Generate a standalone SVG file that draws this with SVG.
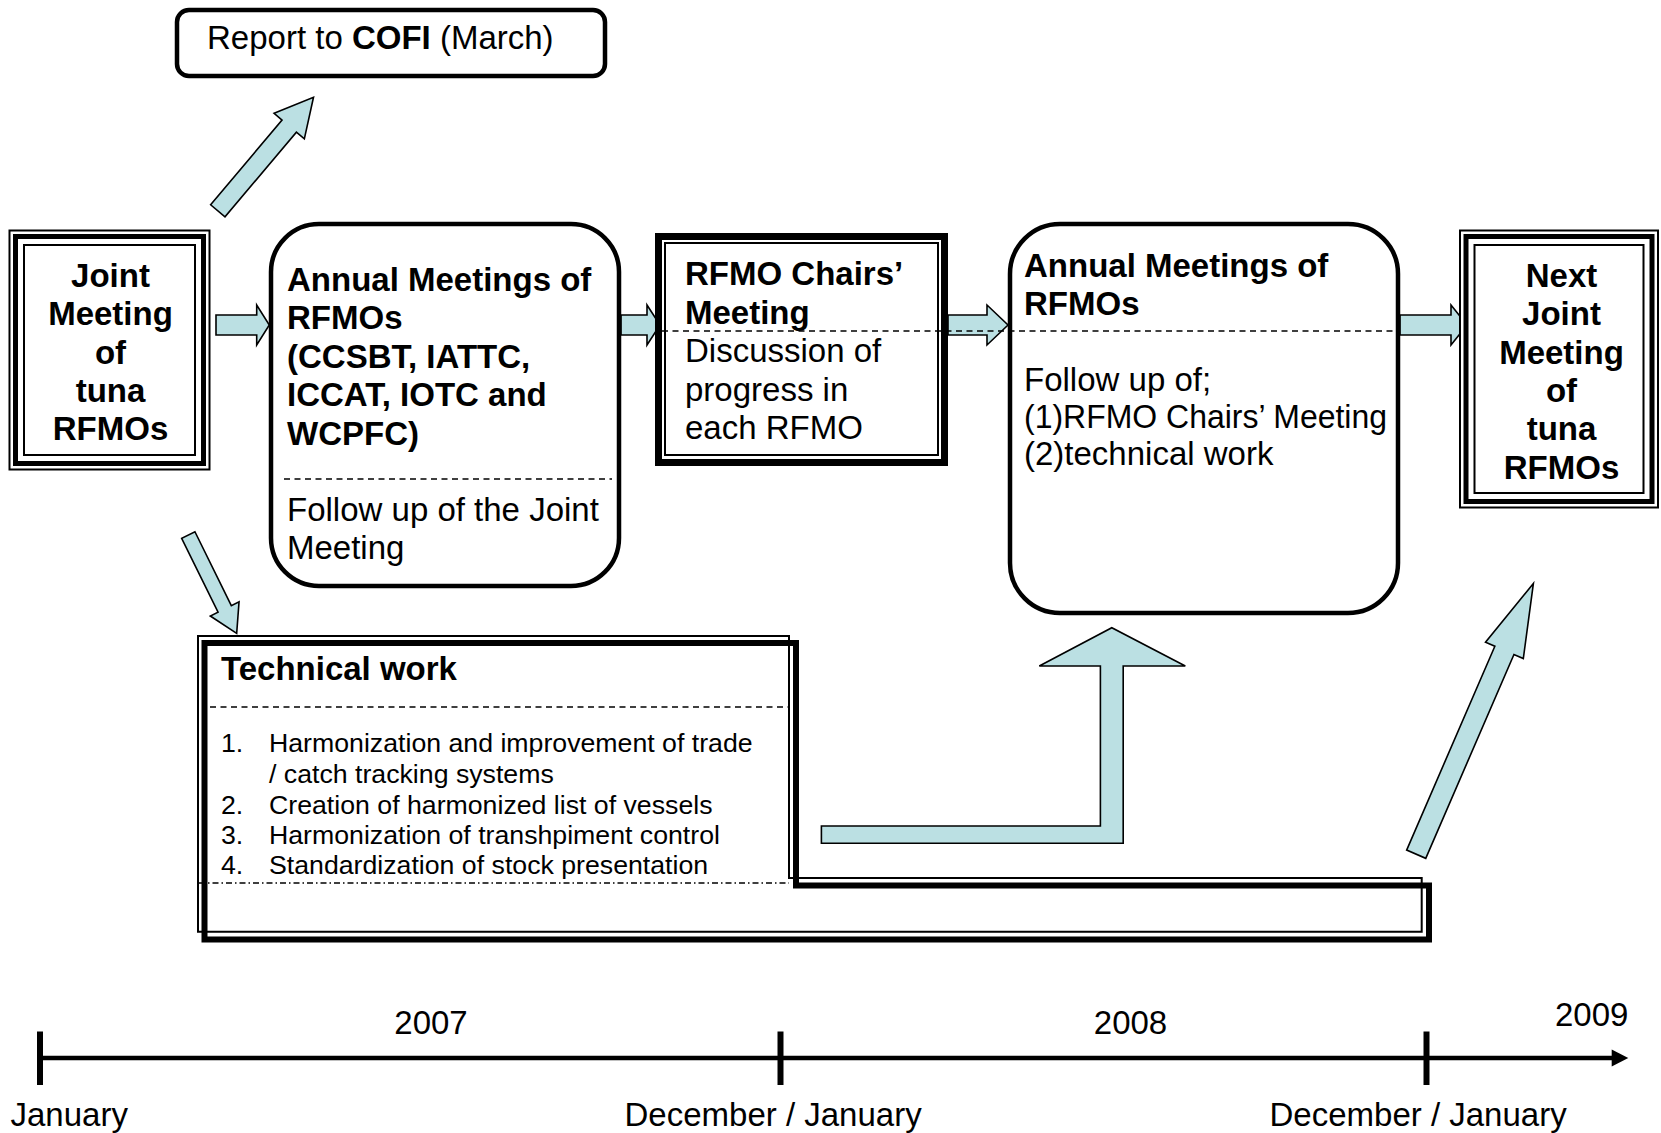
<svg xmlns="http://www.w3.org/2000/svg" width="1661" height="1133" viewBox="0 0 1661 1133">
<style>
text{font-family:"Liberation Sans",Arial,sans-serif;fill:#000}
.t{font-size:33px}
.b{font-weight:bold}
.s{font-size:26.7px}
.mid{text-anchor:middle}
.arr{fill:#bbe0e3;stroke:#000;stroke-width:1.6;stroke-linejoin:miter}
.box{fill:#fff;stroke:#000}
.thin{fill:none;stroke:#000;stroke-width:2}
.dash{fill:none;stroke:#000;stroke-width:1.6;stroke-dasharray:6 4.5}
.dd{fill:none;stroke:#000;stroke-width:1.5;stroke-dasharray:6 3 1.5 3}
</style>
<rect width="1661" height="1133" fill="#fff"/>

<g id="connectors">
<polygon class="arr" points="0,-9.4 110.8,-9.4 110.8,-19.8 148.5,0 110.8,19.8 110.8,9.4 0,9.4" transform="translate(217.8,210.8) rotate(-49.87)"/>
<polygon class="arr" points="0,-7.4 82.4,-7.4 82.4,-16 109.6,0 82.4,16 82.4,7.4 0,7.4" transform="translate(188.3,535) rotate(63.8)"/>
<polygon class="arr" points="0,-10.4 222.1,-10.4 222.1,-20.6 295.1,0 222.1,20.6 222.1,10.4 0,10.4" transform="translate(1416.2,854.2) rotate(-66.6)"/>
<polygon class="arr" points="216,315 256.7,315 256.7,305 269.3,325 256.7,345 256.7,335 216,335"/>
<polygon class="arr" points="621,315 647,315 647,305 660,325 647,345 647,335 621,335"/>
<polygon class="arr" points="948,315 987,315 987,305 1008,325 987,345 987,335 948,335"/>
<polygon class="arr" points="1400,315 1451,315 1451,305 1467,325 1451,345 1451,335 1400,335"/>
<polygon class="arr" points="821.4,826 1100.4,826 1100.4,666 1039.3,666 1111.8,627.7 1185.3,666 1123.2,666 1123.2,843.3 821.4,843.3"/>
</g>

<g id="report">
<rect class="box" x="177" y="10" width="428" height="66" rx="12" stroke-width="4.5"/>
<text class="t" x="207" y="48.5">Report to <tspan class="b">COFI</tspan> (March)</text>
</g>

<g id="joint">
<rect class="box" x="9.5" y="230.5" width="200" height="239" stroke-width="2"/>
<rect x="15.5" y="236.5" width="188" height="227" fill="none" stroke="#000" stroke-width="5"/>
<rect class="thin" x="24" y="245" width="171" height="210"/>
<text class="t b mid" x="110.5" y="286.5">Joint</text>
<text class="t b mid" x="110.5" y="325">Meeting</text>
<text class="t b mid" x="110.5" y="363.5">of</text>
<text class="t b mid" x="110.5" y="402">tuna</text>
<text class="t b mid" x="110.5" y="440">RFMOs</text>
</g>

<g id="annual1">
<rect class="box" x="271" y="224" width="348" height="362" rx="48" stroke-width="4.5"/>
<text class="t b" x="287" y="290.5">Annual Meetings of</text>
<text class="t b" x="287" y="329">RFMOs</text>
<text class="t b" x="287" y="367.8">(CCSBT, IATTC,</text>
<text class="t b" x="287" y="406.4">ICCAT, IOTC and</text>
<text class="t b" x="287" y="445">WCPFC)</text>
<line class="dash" x1="284" y1="479" x2="612" y2="479"/>
<text class="t" x="287" y="521">Follow up of the Joint</text>
<text class="t" x="287" y="559">Meeting</text>
</g>

<g id="chairs">
<rect class="box" x="658.5" y="236.5" width="286" height="226" stroke-width="7"/>
<rect class="thin" x="665" y="243" width="273" height="212"/>
<text class="t b" x="685" y="285">RFMO Chairs’</text>
<text class="t b" x="685" y="324">Meeting</text>
<text class="t" x="685" y="362">Discussion of</text>
<text class="t" x="685" y="400.5">progress in</text>
<text class="t" x="685" y="439">each RFMO</text>
</g>

<g id="annual2">
<rect class="box" x="1010" y="224" width="388" height="389" rx="50" stroke-width="4.5"/>
<text class="t b" x="1024" y="277">Annual Meetings of</text>
<text class="t b" x="1024" y="315">RFMOs</text>
<text class="t" x="1024" y="391">Follow up of;</text>
<text class="t" x="1024" y="428" textLength="363" lengthAdjust="spacingAndGlyphs">(1)RFMO Chairs’ Meeting</text>
<text class="t" x="1024" y="465">(2)technical work</text>
</g>

<line class="dash" x1="662" y1="331" x2="1396" y2="331"/>

<g id="next">
<rect class="box" x="1460" y="230.5" width="198" height="277" stroke-width="2"/>
<rect x="1466" y="236.5" width="186" height="265" fill="none" stroke="#000" stroke-width="5"/>
<rect class="thin" x="1474.5" y="245" width="169" height="248"/>
<text class="t b mid" x="1561.5" y="286.5">Next</text>
<text class="t b mid" x="1561.5" y="325">Joint</text>
<text class="t b mid" x="1561.5" y="363.5">Meeting</text>
<text class="t b mid" x="1561.5" y="402">of</text>
<text class="t b mid" x="1561.5" y="440">tuna</text>
<text class="t b mid" x="1561.5" y="478.5">RFMOs</text>
</g>

<g id="technical">
<polygon points="198,636 789,636 789,878 1421.7,878 1421.7,931.7 198,931.7" fill="#fff" stroke="#000" stroke-width="2"/>
<polygon points="204.5,643 796,643 796,885.5 1429,885.5 1429,939.5 204.5,939.5" fill="none" stroke="#000" stroke-width="6"/>
<text class="t b" x="221" y="680">Technical work</text>
<line class="dash" x1="210" y1="707" x2="789" y2="707"/>
<text class="s" x="221" y="752">1.</text>
<text class="s" x="269" y="752">Harmonization and improvement of trade</text>
<text class="s" x="269" y="782.5">/ catch tracking systems</text>
<text class="s" x="221" y="813.5">2.</text>
<text class="s" x="269" y="813.5">Creation of harmonized list of vessels</text>
<text class="s" x="221" y="843.5">3.</text>
<text class="s" x="269" y="843.5">Harmonization of transhpiment control</text>
<text class="s" x="221" y="873.5">4.</text>
<text class="s" x="269" y="873.5">Standardization of stock presentation</text>
<line class="dd" x1="199" y1="883" x2="789" y2="883"/>
</g>

<g id="timeline">
<line x1="40" y1="1058" x2="1614" y2="1058" stroke="#000" stroke-width="4.5"/>
<polygon points="1611.7,1049.5 1628.3,1058 1611.7,1066.5" fill="#000"/>
<line x1="40" y1="1031.5" x2="40" y2="1085" stroke="#000" stroke-width="6"/>
<line x1="780.5" y1="1031.5" x2="780.5" y2="1085" stroke="#000" stroke-width="6"/>
<line x1="1426.5" y1="1031.5" x2="1426.5" y2="1085" stroke="#000" stroke-width="6"/>
<text class="t mid" x="431" y="1034">2007</text>
<text class="t mid" x="1130.5" y="1034">2008</text>
<text class="t" x="1555" y="1026">2009</text>
<text class="t" x="10.5" y="1126">January</text>
<text class="t" x="624.5" y="1126">December / January</text>
<text class="t" x="1269.5" y="1126">December / January</text>
</g>
</svg>
